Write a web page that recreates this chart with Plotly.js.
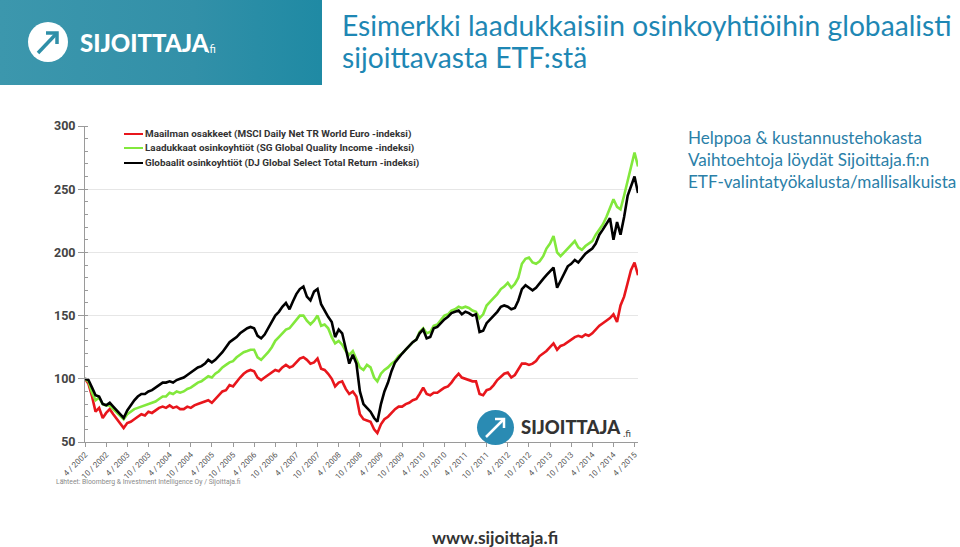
<!DOCTYPE html>
<html><head><meta charset="utf-8">
<script src="https://cdn.plot.ly/plotly-3.0.1.min.js"></script>
<style>html,body{margin:0;padding:0;background:#fff;overflow:hidden}#chart{width:960px;height:547px;}</style>
</head><body><div id="chart"></div>
<script>
// ---- DATA (monthly readings, index = 100 in 4/2002) ----
const months = [
'2002-04','2002-05','2002-06','2002-07','2002-08','2002-09','2002-10','2002-11','2002-12',
'2003-01','2003-02','2003-03','2003-04','2003-05','2003-06','2003-07','2003-08','2003-09','2003-10','2003-11','2003-12',
'2004-01','2004-02','2004-03','2004-04','2004-05','2004-06','2004-07','2004-08','2004-09','2004-10','2004-11','2004-12',
'2005-01','2005-02','2005-03','2005-04','2005-05','2005-06','2005-07','2005-08','2005-09','2005-10','2005-11','2005-12',
'2006-01','2006-02','2006-03','2006-04','2006-05','2006-06','2006-07','2006-08','2006-09','2006-10','2006-11','2006-12',
'2007-01','2007-02','2007-03','2007-04','2007-05','2007-06','2007-07','2007-08','2007-09','2007-10','2007-11','2007-12',
'2008-01','2008-02','2008-03','2008-04','2008-05','2008-06','2008-07','2008-08','2008-09','2008-10','2008-11','2008-12',
'2009-01','2009-02','2009-03','2009-04','2009-05','2009-06','2009-07','2009-08','2009-09','2009-10','2009-11','2009-12',
'2010-01','2010-02','2010-03','2010-04','2010-05','2010-06','2010-07','2010-08','2010-09','2010-10','2010-11','2010-12',
'2011-01','2011-02','2011-03','2011-04','2011-05','2011-06','2011-07','2011-08','2011-09','2011-10','2011-11','2011-12',
'2012-01','2012-02','2012-03','2012-04','2012-05','2012-06','2012-07','2012-08','2012-09','2012-10','2012-11','2012-12',
'2013-01','2013-02','2013-03','2013-04','2013-05','2013-06','2013-07','2013-08','2013-09','2013-10','2013-11','2013-12',
'2014-01','2014-02','2014-03','2014-04','2014-05','2014-06','2014-07','2014-08','2014-09','2014-10','2014-11','2014-12',
'2015-01','2015-02','2015-03','2015-04','2015-05'];

const msciWorld = [
100,96,86,74,77,69,73,76,72,
68,64,61,65,66,68,70,72,71,74,73,75,
77,78,77,79,77,78,76,76,78,77,79,80,
81,82,83,81,84,87,90,91,95,94,98,101,
104,106,107,106,101,99,101,103,105,107,106,109,
111,109,110,113,116,117,115,112,113,116,108,107,
104,100,94,97,98,92,88,90,86,72,68,67,
66,60,57,64,68,70,73,76,78,78,80,81,
83,84,88,93,88,87,89,89,91,93,94,97,
101,104,101,100,99,98,98,88,87,91,92,95,
99,102,104,105,101,103,108,112,112,111,112,114,
118,120,122,125,128,123,126,127,129,131,133,134,
133,135,134,136,139,142,144,146,148,151,145,158,
165,176,186,192,182];

const sgQuality = [
100,98,89,83,85,80,79,79,76,
73,70,68,72,74,76,77,78,79,80,81,82,
84,86,86,89,88,90,89,90,92,93,95,97,
98,100,102,101,104,106,109,111,113,114,117,119,
121,122,123,123,117,115,118,121,125,130,133,136,
139,140,143,147,150,150,146,143,146,150,142,143,
140,133,128,130,127,122,119,122,116,109,107,111,
109,101,98,104,107,109,112,114,118,120,123,126,
129,131,137,140,136,137,142,143,147,150,151,154,
155,157,156,157,156,154,153,148,151,158,161,164,
167,171,173,176,172,175,180,191,195,196,192,191,
193,197,203,207,213,200,197,200,203,206,209,204,
202,205,207,209,214,218,222,228,235,242,236,234,
245,256,266,279,268];

const djSelect = [
100,99,93,87,86,80,79,81,78,
75,72,69,75,79,83,86,88,88,90,91,93,
95,97,97,98,97,99,100,101,103,105,107,109,
110,112,115,113,115,118,121,125,129,131,133,136,
138,140,141,140,134,132,135,140,146,150,153,157,
160,155,161,167,171,173,165,162,169,171,159,154,
149,145,133,139,136,124,112,119,112,90,80,77,
74,69,66,80,90,97,106,113,117,120,123,126,
129,131,136,139,132,133,140,141,144,147,149,152,
153,154,151,153,152,150,151,137,138,144,147,150,
153,157,158,157,155,156,162,171,174,172,170,172,
176,179,182,185,188,172,178,183,189,191,194,192,
196,199,201,203,207,214,218,222,227,210,224,214,
228,245,252,260,247];

const seriesNames = [
'Maailman osakkeet (MSCI Daily Net TR World Euro -indeksi)',
'Laadukkaat osinkoyhtiöt (SG Global Quality Income -indeksi)',
'Globaalit osinkoyhtiöt (DJ Global Select Total Return -indeksi)'];
const seriesColors = ['#e8161c','#82e83c','#000000'];

const tickVals = ['2002-04-01','2002-10-01','2003-04-01','2003-10-01','2004-04-01','2004-10-01','2005-04-01','2005-10-01',
'2006-04-01','2006-10-01','2007-04-01','2007-10-01','2008-04-01','2008-10-01','2009-04-01','2009-10-01',
'2010-04-01','2010-10-01','2011-04-01','2011-10-01','2012-04-01','2012-10-01','2013-04-01','2013-10-01',
'2014-04-01','2014-10-01','2015-04-01'];
const tickText = ['4 / 2002','10 / 2002','4 / 2003','10 / 2003','4 / 2004','10 / 2004','4 / 2005','10 / 2005',
'4 / 2006','10 / 2006','4 / 2007','10 / 2007','4 / 2008','10 / 2008','4 / 2009','10 / 2009',
'4 / 2010','10 / 2010','4 / 2011','10 / 2011','4 / 2012','10 / 2012','4 / 2013','10 / 2013',
'4 / 2014','10 / 2014','4 / 2015'];
const yTicks = [50,100,150,200,250,300];

const titleLines = ['Esimerkki laadukkaisiin osinkoyhtiöihin globaalisti','sijoittavasta ETF:stä'];
const sideLines = ['Helppoa &amp; kustannustehokasta','Vaihtoehtoja löydät Sijoittaja.fi:n','ETF-valintatyökalusta/mallisalkuista'];
const sourceText = 'Lähteet: Bloomberg &amp; Investment Intelligence Oy / Sijoittaja.fi';
const footerText = 'www.sijoittaja.fi';
const brandText = 'SIJOITTAJA';
const brandSuffix = '.fi';

// ---- LAYOUT HELPERS ----
const W = 960, H = 547;
const M = {l:85, r:322, t:126, b:105};
const PW = W - M.l - M.r, PH = H - M.t - M.b;
const px = v => (v - M.l) / PW;
const py = v => (H - M.b - v) / PH;
const dates = months.map(m => m + '-01');

const dataSets = [msciWorld, sgQuality, djSelect];
const traces = dataSets.map((ys, i) => ({
  type:'scatter', mode:'lines', x: dates, y: ys, name: seriesNames[i],
  line:{color: seriesColors[i], width: 2.6}, hoverinfo:'skip'
}));

const bannerSvg = "<svg xmlns='http://www.w3.org/2000/svg' width='322' height='85'><defs><linearGradient id='g' x1='0' x2='1' y1='0' y2='0'><stop offset='0' stop-color='#3c97ad'/><stop offset='0.6' stop-color='#3290a8'/><stop offset='1' stop-color='#1f8aa4'/></linearGradient></defs><rect width='322' height='85' fill='url(#g)'/></svg>";

function pathFrom(points){
  return points.map((p,i)=> (i? 'L':'M') + px(p[0]) + ',' + py(p[1])).join(' ');
}

const shapes = [
  {type:'circle', xref:'paper', yref:'paper', x0:px(28), x1:px(68), y0:py(62), y1:py(22), fillcolor:'#ffffff', line:{width:0}, layer:'above'},
  {type:'path', xref:'paper', yref:'paper', path:pathFrom([[38,53],[57,33]]), line:{color:'#2f8fa8', width:3.5}, layer:'above'},
  {type:'path', xref:'paper', yref:'paper', path:pathFrom([[46,33],[57,33],[57,44]]), line:{color:'#2f8fa8', width:3.5}, layer:'above'},
  {type:'circle', xref:'paper', yref:'paper', x0:px(477), x1:px(514), y0:py(445), y1:py(410), fillcolor:'#2a8bb3', line:{width:0}, layer:'above'},
  {type:'path', xref:'paper', yref:'paper', path:pathFrom([[486,437],[504,419]]), line:{color:'#ffffff', width:2.5}, layer:'above'},
  {type:'path', xref:'paper', yref:'paper', path:pathFrom([[495,419],[504,419],[504,428]]), line:{color:'#ffffff', width:2.5}, layer:'above'}
];
const legendRows = [134,148,163];
seriesNames.forEach((n,i)=>{
  shapes.push({type:'line', xref:'paper', yref:'paper', x0:px(124), x1:px(143), y0:py(legendRows[i]), y1:py(legendRows[i]),
    line:{color:seriesColors[i], width:2}, layer:'above'});
});

function ann(text, x, y, font, opts){
  return Object.assign({text, x:px(x), y:py(y), xref:'paper', yref:'paper', xanchor:'left', yanchor:'middle',
    showarrow:false, font}, opts||{});
}
const annotations = [
  ann(titleLines[0], 340, 25, {family:'Lato', size:28.2, color:'#1e87b4'}),
  ann(titleLines[1], 340, 57, {family:'Lato', size:28.2, color:'#1e87b4'}),
  ann(brandText, 78, 43, {family:'Lato', size:24, color:'#ffffff', weight:900}),
  ann(brandSuffix, 205, 48, {family:'Lato', size:11, color:'#ffffff'}),
  ann(brandText, 519, 427, {family:'Lato', size:18.5, color:'#333333', weight:900}),
  ann(brandSuffix, 621, 433, {family:'Lato', size:10, color:'#444444'}),
  ann(sourceText, 54, 482, {family:'Roboto', size:6.8, color:'#8a8a8a'}),
  ann(footerText, 495, 537, {family:'Lato', size:17.5, color:'#333333', weight:700}, {xanchor:'center'})
];
sideLines.forEach((t,i)=> annotations.push(ann(t, 686, [137,159,181][i], {family:'Lato', size:17.1, color:'#2b80a8'})));
seriesNames.forEach((n,i)=> annotations.push(ann(n, 143, legendRows[i], {family:'Roboto', size:9.9, color:'#333333', weight:700})));

const layout = {
  width: W, height: H, margin: M,
  paper_bgcolor:'#ffffff', plot_bgcolor:'#ffffff', showlegend:false,
  xaxis:{type:'date', range:['2002-04-01','2015-05-01'], tickvals:tickVals, ticktext:tickText, tickangle:-45,
    tickfont:{family:'Roboto', size:8, color:'#555555'}, showline:true, linecolor:'#9a9a9a', linewidth:1,
    ticks:'outside', ticklen:4, tickcolor:'#9a9a9a', showgrid:false, zeroline:false, fixedrange:true},
  yaxis:{range:[50,300], tickvals:yTicks, showgrid:true, gridcolor:'#e6e6e6', gridwidth:1,
    showline:true, linecolor:'#9a9a9a', linewidth:1, ticks:'outside', ticklen:6, tickcolor:'#9a9a9a',
    tickfont:{family:'Roboto', size:12.5, color:'#444444', weight:700}, zeroline:false,
    minor:{dtick:10, ticks:'inside', ticklen:3, tickcolor:'#9a9a9a', showgrid:false}},
  images:[{source:'data:image/svg+xml;charset=utf-8,' + encodeURIComponent(bannerSvg), xref:'paper', yref:'paper',
    x:px(0), y:py(0), sizex:322/PW, sizey:85/PH, xanchor:'left', yanchor:'top', sizing:'stretch', layer:'below'}],
  shapes, annotations
};
Plotly.newPlot('chart', traces, layout, {staticPlot:true, displayModeBar:false});
</script></body></html>
